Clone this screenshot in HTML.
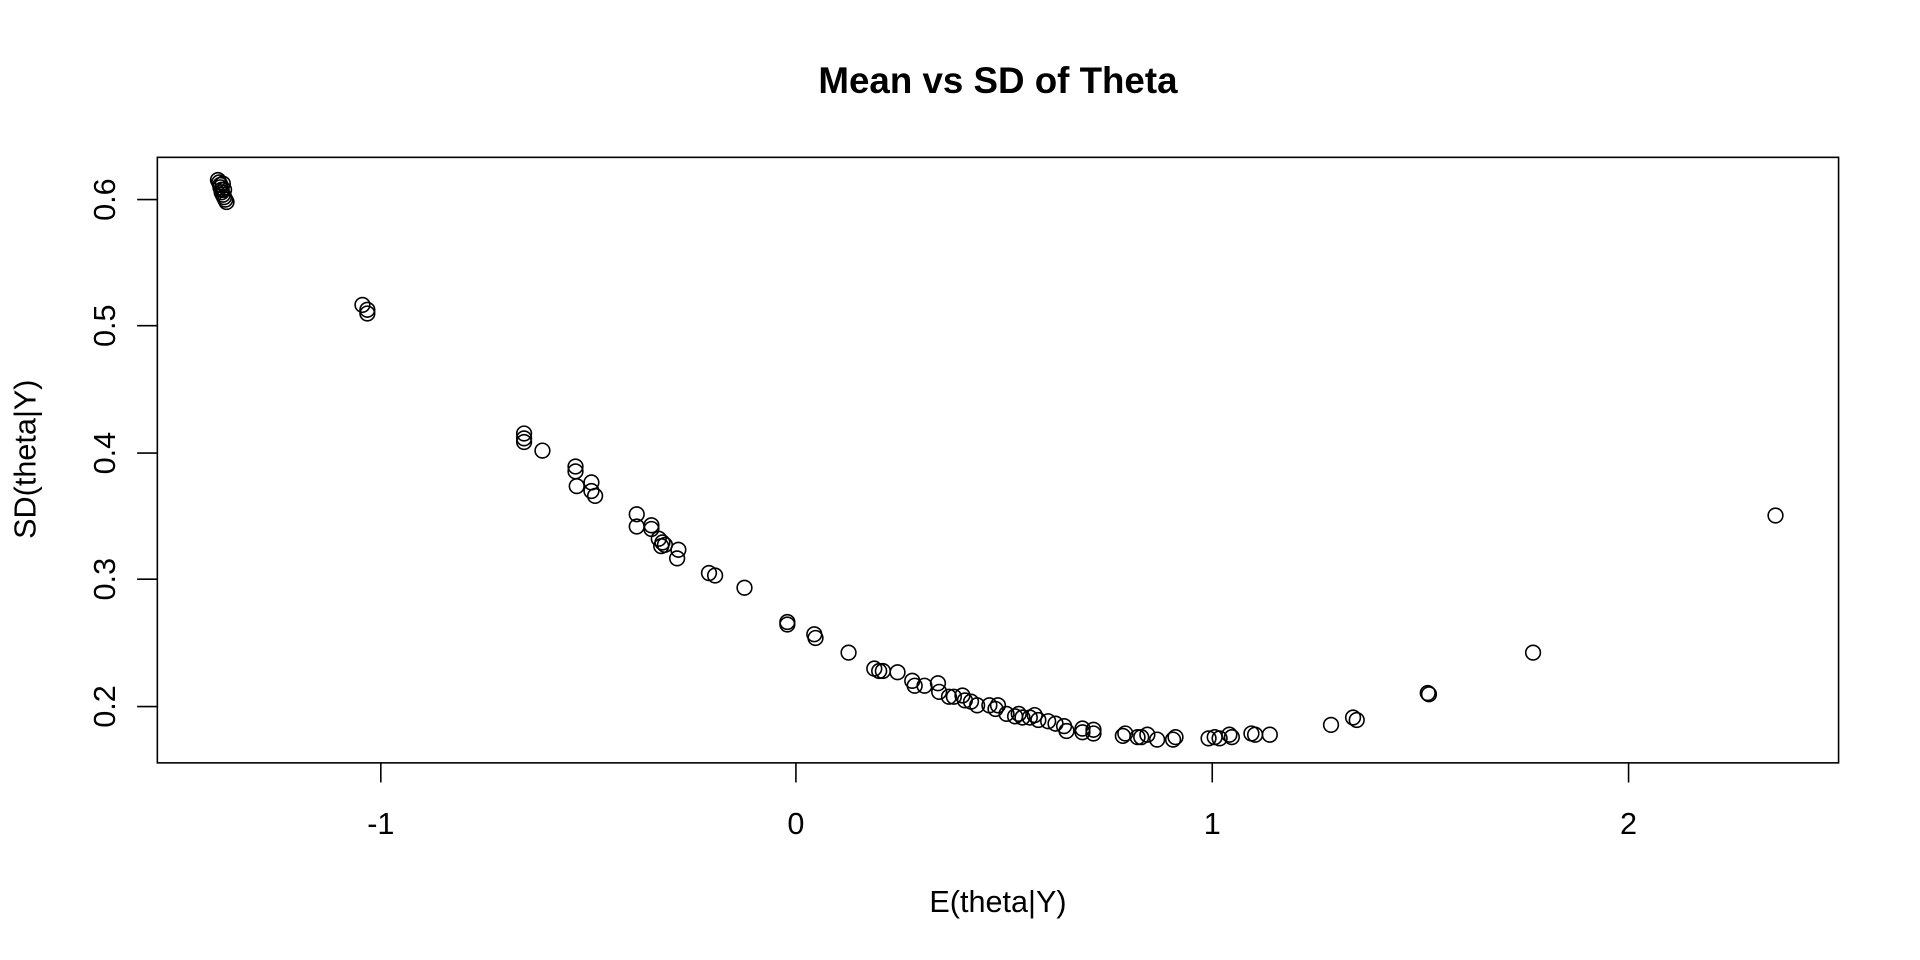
<!DOCTYPE html>
<html><head><style>html,body{margin:0;padding:0;background:#fff}svg{display:block}</style></head>
<body>
<svg width="1920" height="960" viewBox="0 0 1568 784" xmlns="http://www.w3.org/2000/svg" font-family="Liberation Sans, sans-serif">
<rect x="0" y="0" width="1568" height="784" fill="#fff"/>
<text x="815" y="76" font-size="30" font-weight="bold" text-anchor="middle">Mean vs SD of Theta</text>
<rect x="128.5" y="128.5" width="1373" height="494.5" fill="none" stroke="#000" stroke-width="1.3"/>
<g stroke="#000" stroke-width="1.3">
<line x1="311" y1="623" x2="311" y2="639"/><line x1="650" y1="623" x2="650" y2="639"/><line x1="990" y1="623" x2="990" y2="639"/><line x1="1330" y1="623" x2="1330" y2="639"/>
<line x1="128" y1="577" x2="112" y2="577"/><line x1="128" y1="473" x2="112" y2="473"/><line x1="128" y1="370" x2="112" y2="370"/><line x1="128" y1="266" x2="112" y2="266"/><line x1="128" y1="163" x2="112" y2="163"/>
</g>
<g font-size="25" text-anchor="middle">
<text x="311" y="681">-1</text><text x="650" y="681">0</text><text x="990" y="681">1</text><text x="1330" y="681">2</text>
<text transform="translate(94,577) rotate(-90)">0.2</text>
<text transform="translate(94,473) rotate(-90)">0.3</text>
<text transform="translate(94,370) rotate(-90)">0.4</text>
<text transform="translate(94,266) rotate(-90)">0.5</text>
<text transform="translate(94,163) rotate(-90)">0.6</text>
<text x="815" y="745">E(theta|Y)</text>
<text transform="translate(29,375) rotate(-90)">SD(theta|Y)</text>
</g>
<g fill="none" stroke="#000" stroke-width="1.3">
<circle cx="178" cy="147" r="6"/><circle cx="179" cy="149" r="6"/><circle cx="180" cy="151" r="6"/><circle cx="180" cy="153" r="6"/><circle cx="181" cy="155" r="6"/><circle cx="181" cy="157" r="6"/><circle cx="182" cy="159" r="6"/><circle cx="183" cy="161" r="6"/><circle cx="184" cy="163" r="6"/><circle cx="185" cy="165" r="6"/><circle cx="182" cy="150" r="6"/><circle cx="183" cy="155" r="6"/>
<circle cx="296" cy="249" r="6"/><circle cx="300" cy="253" r="6"/><circle cx="300" cy="256" r="6"/>
<circle cx="428" cy="354" r="6"/><circle cx="428" cy="358" r="6"/><circle cx="428" cy="361" r="6"/><circle cx="443" cy="368" r="6"/>
<circle cx="470" cy="381" r="6"/><circle cx="470" cy="385" r="6"/><circle cx="471" cy="397" r="6"/><circle cx="483" cy="394" r="6"/><circle cx="483" cy="401" r="6"/><circle cx="486" cy="405" r="6"/>
<circle cx="520" cy="420" r="6"/><circle cx="520" cy="430" r="6"/><circle cx="532" cy="429" r="6"/><circle cx="532" cy="432" r="6"/><circle cx="538" cy="440" r="6"/><circle cx="541" cy="443" r="6"/><circle cx="543" cy="445" r="6"/><circle cx="540" cy="446" r="6"/><circle cx="554" cy="449" r="6"/><circle cx="553" cy="456" r="6"/>
<circle cx="579" cy="468" r="6"/><circle cx="584" cy="470" r="6"/><circle cx="608" cy="480" r="6"/>
<circle cx="643" cy="508" r="6"/><circle cx="643" cy="510" r="6"/><circle cx="665" cy="518" r="6"/><circle cx="666" cy="521" r="6"/><circle cx="693" cy="533" r="6"/>
<circle cx="714" cy="546" r="6"/><circle cx="718" cy="548" r="6"/><circle cx="721" cy="548" r="6"/><circle cx="733" cy="549" r="6"/>
<circle cx="745" cy="556" r="6"/><circle cx="747" cy="560" r="6"/><circle cx="755" cy="560" r="6"/><circle cx="766" cy="558" r="6"/><circle cx="767" cy="565" r="6"/><circle cx="775" cy="569" r="6"/><circle cx="779" cy="569" r="6"/><circle cx="786" cy="568" r="6"/><circle cx="788" cy="572" r="6"/><circle cx="793" cy="573" r="6"/><circle cx="798" cy="576" r="6"/><circle cx="808" cy="576" r="6"/><circle cx="813" cy="579" r="6"/><circle cx="815" cy="576" r="6"/><circle cx="822" cy="583" r="6"/><circle cx="829" cy="585" r="6"/><circle cx="832" cy="583" r="6"/><circle cx="835" cy="586" r="6"/><circle cx="841" cy="586" r="6"/><circle cx="845" cy="584" r="6"/><circle cx="848" cy="588" r="6"/><circle cx="856" cy="589" r="6"/><circle cx="862" cy="591" r="6"/><circle cx="869" cy="593" r="6"/><circle cx="871" cy="597" r="6"/><circle cx="884" cy="595" r="6"/><circle cx="884" cy="598" r="6"/><circle cx="893" cy="596" r="6"/><circle cx="893" cy="599" r="6"/>
<circle cx="917" cy="601" r="6"/><circle cx="919" cy="599" r="6"/><circle cx="929" cy="602" r="6"/><circle cx="932" cy="602" r="6"/><circle cx="937" cy="600" r="6"/><circle cx="945" cy="604" r="6"/><circle cx="958" cy="604" r="6"/><circle cx="960" cy="602" r="6"/>
<circle cx="987" cy="603" r="6"/><circle cx="992" cy="602" r="6"/><circle cx="996" cy="603" r="6"/><circle cx="1004" cy="600" r="6"/><circle cx="1006" cy="602" r="6"/><circle cx="1022" cy="599" r="6"/><circle cx="1025" cy="600" r="6"/><circle cx="1037" cy="600" r="6"/>
<circle cx="1087" cy="592" r="6"/><circle cx="1105" cy="586" r="6"/><circle cx="1108" cy="588" r="6"/><circle cx="1166" cy="566" r="6"/><circle cx="1167" cy="567" r="6"/><circle cx="1252" cy="533" r="6"/><circle cx="1450" cy="421" r="6"/>
</g>
</svg>
</body></html>
